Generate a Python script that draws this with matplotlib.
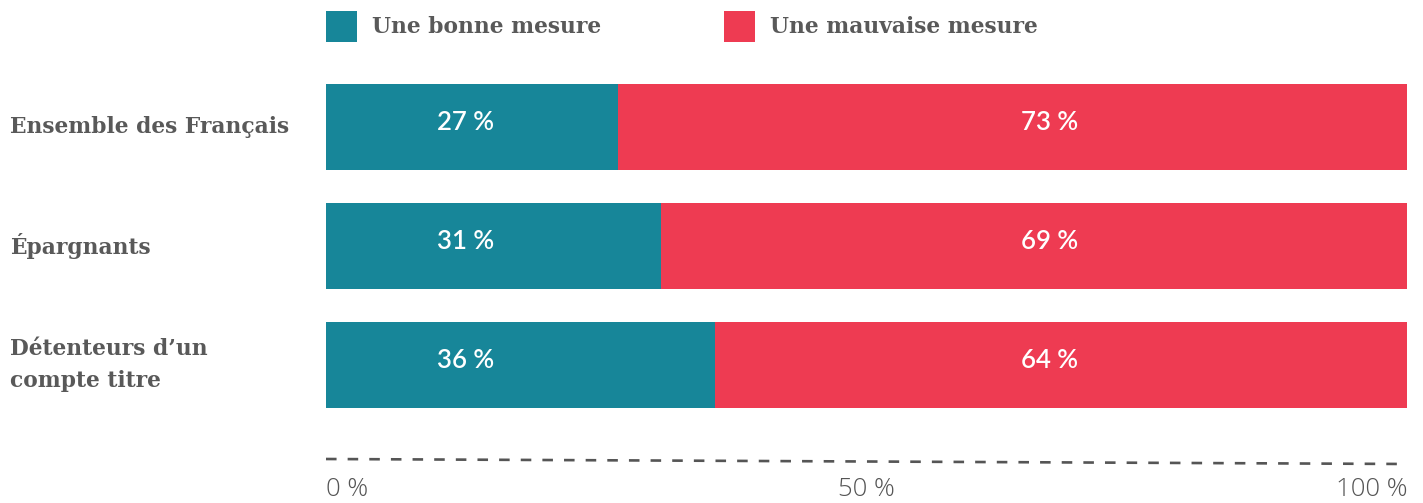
import matplotlib
matplotlib.use("Agg")
import matplotlib.pyplot as plt
from matplotlib.patches import Rectangle

categories = ["Ensemble des Français", "Épargnants", "Détenteurs d\u2019un\ncompte titre"]
bonne = [27, 31, 36]
mauvaise = [73, 69, 64]
series_names = ["Une bonne mesure", "Une mauvaise mesure"]
tick_values = [0, 50, 100]
tick_labels = ["0 %", "50 %", "100 %"]

TEAL = "#178699"
RED = "#EE3B52"
GREY = "#595959"

W, H = 1423, 503
fig = plt.figure(figsize=(W / 100, H / 100), dpi=100)

ax_l, ax_r = 326, 1407
ax_top, ax_bot = 60, 470
ax = fig.add_axes([ax_l / W, 1 - ax_bot / H, (ax_r - ax_l) / W, (ax_bot - ax_top) / H])
ax.set_xlim(0, 100)
row_px = 119.0
c0 = 127.0
ax.set_ylim((ax_bot - c0) / row_px, -(c0 - ax_top) / row_px)
ax.axis("off")

ys = list(range(len(categories)))
bh = 86 / row_px
ax.barh(ys, bonne, height=bh, color=TEAL, linewidth=0)
ax.barh(ys, mauvaise, left=bonne, height=bh, color=RED, linewidth=0)

lab_font = ["Lato", "DejaVu Sans"]
for y, b, m in zip(ys, bonne, mauvaise):
    ax.text(12.9, y - 0.035, f"{b} %", color="white", ha="center", va="center",
            fontsize=18.5, family=lab_font, weight="semibold")
    ax.text(66.9, y - 0.035, f"{m} %", color="white", ha="center", va="center",
            fontsize=18.5, family=lab_font, weight="semibold")

serif = ["DejaVu Serif"]
for y, cat in zip(ys, categories):
    fig.text(10 / W, 1 - (c0 + y * row_px) / H, cat, ha="left", va="center",
             fontsize=15.7, family=serif, weight="bold", color=GREY,
             linespacing=1.55)

# dashed baseline (slightly tilted as in the reference)
y1 = (459 - c0) / row_px
y2 = (464 - c0) / row_px
ax.plot([0, 100], [y1, y2], color="#555555", lw=1.9, dashes=(4.0, 4.2),
        clip_on=False, dash_capstyle="butt")

tick_font = ["Open Sans", "DejaVu Sans"]
has = ["left", "center", "right"]
for v, t, ha in zip(tick_values, tick_labels, has):
    fig.text((ax_l + v / 100 * (ax_r - ax_l)) / W, 1 - 490 / H, t, ha=ha,
             va="center", fontsize=18.5, family=tick_font, weight="light",
             color="#555555")

# legend
for x0, name, col in zip([326, 724], series_names, [TEAL, RED]):
    fig.patches.append(Rectangle((x0 / W, 1 - 42 / H), 31 / W, 31 / H,
                                 transform=fig.transFigure, color=col, lw=0))
    fig.text((x0 + 46) / W, 1 - 27 / H, name, ha="left", va="center",
             fontsize=15.7, family=serif, weight="bold", color=GREY)

fig.savefig("out.png", dpi=100)
